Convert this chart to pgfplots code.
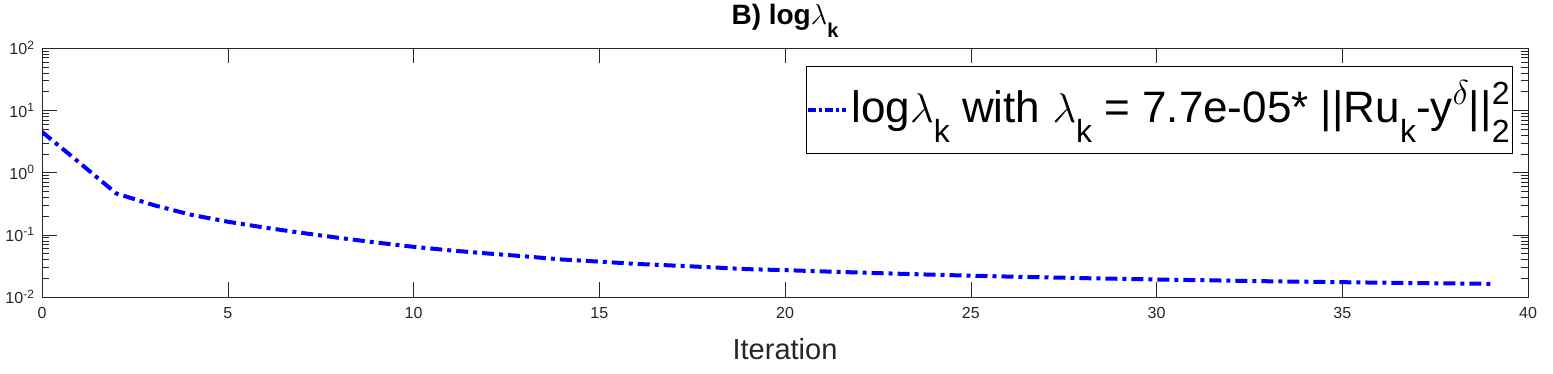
\documentclass[border=0pt]{standalone}
\usepackage{pgfplots}
\pgfplotsset{compat=1.18}
\usepackage{fontspec}
\setmainfont{Liberation Sans}
\definecolor{axgray}{RGB}{38,38,38}
\definecolor{mblue}{RGB}{0,0,255}
% MATLAB-like low subscripts and high superscripts for the legend
\newcommand\lsub[1]{\raisebox{-10pt}{\fontsize{16}{18}\selectfont #1}}
\newcommand\lsup[1]{\raisebox{9pt}{\fontsize{16}{18}\selectfont #1}}

\begin{document}
\begin{tikzpicture}
\useasboundingbox (-21pt,-38.5pt) rectangle (755.5pt,148.5pt);
\begin{axis}[
    scale only axis,
    width=743pt, height=124.5pt,
    ymode=log,
    xmin=0, xmax=40,
    ymin=0.01, ymax=100,
    xtick={0,5,...,40},
    ytick={0.01,0.1,1,10,100},
    yticklabels={10\textsuperscript{-2},10\textsuperscript{-1},10\textsuperscript{0},10\textsuperscript{1},10\textsuperscript{2}},
    /pgf/number format/assume math mode=true,
    axis line style={draw=axgray},
    tick style={axgray},
    major tick length=7.5pt,
    minor tick length=3.5pt,
    tick label style={font=\fontsize{8}{10}\selectfont, text=axgray},
    xticklabel style={yshift=-1.5pt},
    xlabel={Iteration},
    xlabel style={font=\fontsize{14.5}{17}\selectfont, text=axgray,
        at={(axis description cs:0.5,0)}, anchor=north, inner sep=0pt, yshift=-20.5pt},
    every axis title shift=0pt,
    title={\textbf{B) log}$\lambda$\raisebox{-6.5pt}{\fontsize{10}{12}\selectfont\textbf{k}}},
    title style={font=\fontsize{14}{16}\selectfont, at={(axis description cs:0.5,1)},
        anchor=base, inner sep=0pt, yshift=11.5pt},
    legend style={at={(0.99,0.928)}, anchor=north east, draw=black, line width=0.5pt,
        font=\fontsize{22}{26}\selectfont, inner xsep=0pt, inner ysep=0pt,
        nodes={inner xsep=1.5pt, inner ysep=0pt, text height=28pt, text depth=15.5pt}},
    legend image code/.code={\draw[#1, line width=2pt, dash pattern=on 4pt off 1.5pt on 1.5pt off 1.5pt] (0pt,0pt) -- (19pt,0pt);},
]
\addplot[mblue, line width=2pt, line cap=butt, dash pattern=on 6pt off 2.5pt on 2pt off 2.5pt] coordinates {
    (0,4.5) (1,1.45) (2,0.46) (3,0.30) (4,0.21) (5,0.162) (6,0.130) (7,0.107)
    (8,0.089) (9,0.075) (10,0.064) (11,0.056) (12,0.050) (13,0.045) (14,0.040)
    (15,0.037) (16,0.034) (17,0.032) (18,0.030) (19,0.028) (20,0.027) (21,0.0258)
    (22,0.0247) (23,0.0237) (24,0.0228) (25,0.0220) (26,0.0213) (27,0.0207)
    (28,0.0201) (29,0.0196) (30,0.0191) (31,0.0187) (32,0.0183) (33,0.0179)
    (34,0.0176) (35,0.0173) (36,0.0170) (37,0.0167) (38,0.0165) (39,0.0163)
};
\addlegendentry{log$\lambda$\lsub{k} with $\lambda$\lsub{k} = 7.7e-05* ||Ru\lsub{k}-y\lsup{$\delta$}||\rlap{\lsup{2}}\lsub{2}}
\end{axis}
\end{tikzpicture}
\end{document}
